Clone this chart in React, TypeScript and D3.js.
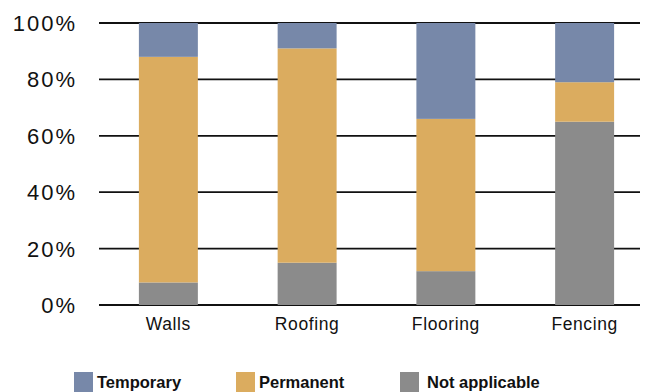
import React from "react";
import * as d3 from "d3";

const categories = ["Walls", "Roofing", "Flooring", "Fencing"];
const notApplicable = [8, 15, 12, 65];
const permanent = [80, 76, 54, 14];
const temporary = [12, 9, 34, 21];
const seriesNames = ["Temporary", "Permanent", "Not applicable"];
const yTicks = [0, 20, 40, 60, 80, 100];

const colors: Record<string, string> = {
  Temporary: "#7788a9",
  Permanent: "#dbac5f",
  "Not applicable": "#8b8b8b",
};

const W = 652;
const H = 392;

export default function App() {
  const x = d3
    .scaleBand<string>()
    .domain(categories)
    .range([99, 654])
    .paddingInner(0.575)
    .paddingOuter(0.2875);
  const y = d3.scaleLinear().domain([0, 100]).range([305, 23]);

  const rows = categories.map((c, i) => ({
    cat: c,
    "Not applicable": notApplicable[i],
    Permanent: permanent[i],
    Temporary: temporary[i],
  }));
  const stack = d3
    .stack<any>()
    .keys(["Not applicable", "Permanent", "Temporary"]);
  const layers = stack(rows);

  const legendX = [74, 236, 400];
  const font = "'Liberation Sans', Arial, Helvetica, sans-serif";

  return (
    <svg
      width={W}
      height={H}
      style={{ position: "absolute", left: 0, top: 0, background: "#fff" }}
      fontFamily={font}
    >
      {yTicks.map((t) => (
        <g key={t}>
          <line
            x1={99}
            x2={640}
            y1={y(t)}
            y2={y(t)}
            stroke="#111"
            strokeWidth={1.8}
          />
          <text
            x={77}
            y={y(t)}
            dy="0.36em"
            textAnchor="end"
            fontSize={22}
            letterSpacing={2}
            fill="#111"
          >
            {t}%
          </text>
        </g>
      ))}
      {layers.map((layer) => (
        <g key={layer.key} fill={colors[layer.key]}>
          {layer.map((d, i) => (
            <rect
              key={i}
              x={x(categories[i])}
              width={x.bandwidth()}
              y={y(d[1])}
              height={y(d[0]) - y(d[1])}
            />
          ))}
        </g>
      ))}
      {categories.map((c) => (
        <text
          key={c}
          x={(x(c) as number) + x.bandwidth() / 2}
          y={330}
          textAnchor="middle"
          fontSize={17.5}
          letterSpacing={0.6}
          fill="#111"
        >
          {c}
        </text>
      ))}
      {seriesNames.map((s, i) => (
        <g key={s}>
          <rect x={legendX[i]} y={372} width={19} height={22} fill={colors[s]} />
          <text
            x={legendX[i] + (i === 2 ? 27 : 23)}
            y={388}
            fontSize={16.5}
            fontWeight="bold"
            fill="#111"
          >
            {s}
          </text>
        </g>
      ))}
    </svg>
  );
}
